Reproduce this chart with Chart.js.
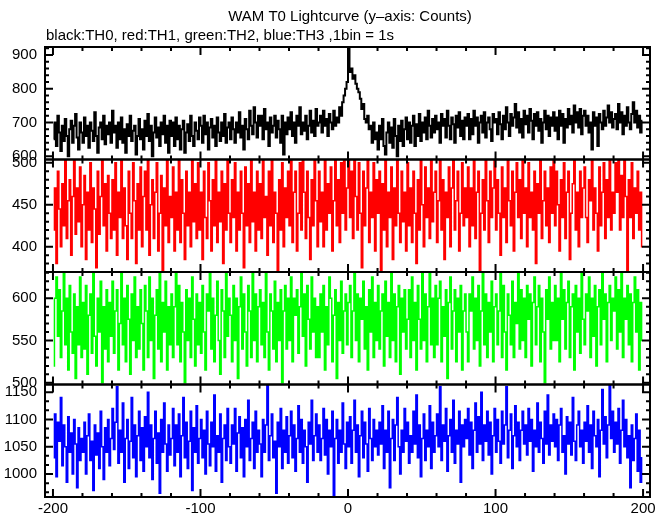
<!DOCTYPE html>
<html>
<head>
<meta charset="utf-8">
<script src="https://cdn.jsdelivr.net/npm/chart.js@4/dist/chart.umd.min.js"></script>
<style>
  html, body { margin: 0; padding: 0; background: #fff; }
</style>
</head>
<body>
<canvas id="lc" width="669" height="515"></canvas>
<script>
// bin centres: -199.5 ... 199.5, 1 bin = 1 s
const binStart = -200;

// TH0 (black) counts per bin
const th0 = [
  650,700,630,720,670,615,690,645,710,660,600,680,705,640,690,725,655,620,700,670,
  640,715,660,690,625,700,675,645,730,660,610,685,700,650,720,635,690,665,700,640,
  735,670,690,625,700,650,715,640,680,610,695,660,720,645,675,690,605,660,710,650,
  680,620,705,660,725,645,690,600,670,715,655,685,630,700,665,720,640,690,610,705,
  660,700,630,715,650,690,620,680,705,610,670,695,645,720,660,630,700,675,650,715,
  690,640,720,665,700,620,685,710,655,690,630,715,670,645,700,660,725,640,685,700,
  650,715,680,640,700,670,730,655,690,620,710,680,650,735,690,665,745,700,655,720,
  690,720,650,740,680,700,630,715,670,690,720,655,705,680,640,720,605,700,665,715,
  680,730,660,700,640,720,690,745,665,700,675,720,650,690,735,670,705,660,740,690,
  700,720,670,735,690,710,660,725,700,680,735,690,715,700,745,720,760,780,800,820,
  925,850,860,830,840,815,800,790,770,740,755,710,700,720,680,690,640,700,650,670,
  620,690,650,710,630,605,670,700,640,685,625,710,660,600,690,645,705,630,680,715,
  650,700,640,690,720,630,695,660,725,645,700,670,715,650,735,690,655,710,670,720,
  680,700,640,725,690,710,655,735,690,650,715,695,640,720,685,730,660,705,650,715,
  690,725,650,710,665,735,690,715,640,700,720,670,730,655,700,715,680,645,725,700,
  710,665,730,695,650,720,680,745,700,660,725,690,715,755,685,730,670,710,655,735,
  695,720,670,740,705,650,725,690,730,675,710,640,700,735,680,720,660,715,690,730,
  675,715,650,735,690,725,640,710,685,740,695,720,670,750,700,730,685,740,665,720,
  735,690,720,670,700,620,730,690,715,630,725,700,680,735,690,715,750,700,730,685,
  710,725,680,755,700,730,665,720,690,745,700,680,725,760,700,735,685,720,670,705
];

// TH1 (red)
const th1 = [
  420,470,380,490,445,400,475,425,505,410,455,480,390,460,505,415,470,430,495,400,
  450,485,385,465,420,500,405,470,445,375,490,415,460,505,425,475,395,485,440,410,
  480,420,500,390,465,435,505,410,470,425,385,490,440,410,500,455,380,475,420,495,
  400,460,490,420,505,390,450,480,410,465,500,395,440,485,370,470,425,505,405,460,
  435,495,395,465,420,505,405,480,440,385,490,425,465,400,505,430,475,410,500,420,
  465,385,490,435,410,500,455,395,480,425,505,405,465,430,490,380,475,420,505,440,
  405,480,435,500,395,465,420,490,440,375,495,425,475,405,505,430,465,395,490,420,
  475,410,505,435,460,390,490,425,505,405,465,440,370,480,420,500,400,470,435,490,
  425,505,405,465,490,395,440,500,420,505,465,410,490,435,385,480,425,505,455,400,
  490,430,465,400,505,420,475,440,495,395,455,505,425,480,405,500,440,505,420,470,
  505,435,490,410,505,460,420,500,440,375,490,425,470,505,405,465,435,500,395,480,
  440,490,370,475,420,505,400,465,435,495,385,470,425,505,440,405,490,430,465,395,
  500,425,470,405,490,440,380,480,420,505,450,400,495,435,470,410,505,430,465,490,
  405,455,505,420,480,385,465,435,495,400,470,505,420,455,490,395,440,500,425,470,
  435,495,400,470,425,505,410,465,490,370,440,480,420,505,455,405,490,435,470,505,
  420,480,440,390,495,435,470,405,505,455,425,490,395,465,500,435,480,410,505,440,
  470,400,500,435,465,420,490,380,475,440,505,410,455,490,425,470,405,495,440,505,
  425,490,450,395,480,435,500,410,465,490,385,440,475,505,420,465,400,490,435,470,
  495,435,405,480,455,505,420,470,440,395,495,425,465,500,410,480,435,505,420,465,
  440,500,465,505,420,485,435,505,460,370,480,435,500,410,470,440,490,420,465,400
];

// TH2 (green)
const th2 = [
  520,600,625,555,610,530,585,631,545,600,515,615,560,535,605,505,590,545,625,530,
  595,540,615,510,580,605,535,631,555,520,600,560,620,500,590,540,610,525,595,555,
  620,535,585,610,515,570,631,545,600,525,615,575,510,605,550,625,530,590,540,610,
  570,515,615,585,530,625,550,600,505,580,610,540,631,525,595,560,620,515,590,545,
  605,530,590,631,545,615,525,595,560,500,610,550,600,530,625,575,520,605,545,595,
  535,615,560,515,605,585,631,540,600,525,580,620,550,510,610,585,530,631,555,600,
  580,525,615,550,600,505,590,625,540,605,560,520,615,585,530,631,550,605,525,590,
  610,545,595,530,631,560,515,605,585,540,620,525,595,550,610,500,585,615,540,600,
  550,625,525,600,580,610,535,590,631,555,605,520,615,575,540,625,560,600,530,590,
  530,605,560,615,515,590,545,625,600,525,580,610,505,595,550,620,535,585,605,545,
  595,615,530,585,631,550,605,525,600,575,620,540,590,515,610,560,625,530,595,550,
  615,540,585,605,520,620,555,595,530,631,550,605,525,590,615,510,600,560,610,540,
  575,610,530,625,550,595,515,615,575,540,631,550,605,525,590,631,545,600,530,615,
  545,600,620,525,590,555,610,505,595,625,540,585,610,525,600,560,615,515,585,605,
  560,525,605,585,625,540,600,550,615,520,585,631,545,605,530,595,560,620,525,590,
  605,545,585,631,530,615,560,515,605,580,545,620,530,595,570,631,540,610,550,600,
  530,615,575,605,520,595,625,545,590,615,525,600,560,500,610,575,625,540,595,550,
  615,550,600,525,631,575,610,540,595,620,530,590,605,515,615,560,600,535,631,575,
  545,605,585,625,530,600,555,615,520,590,610,545,631,575,605,525,595,615,550,600,
  585,625,540,610,560,631,530,600,575,615,545,605,525,595,625,560,610,515,595,550
];

// TH3 (blue)
const th3 = [
  1030,1110,995,1095,1060,1140,1015,1090,1050,985,1105,1040,1075,1000,1100,1055,975,1085,1025,1065,
  1040,1095,1000,1070,1110,1025,1060,970,1090,1035,1075,1010,1115,1050,990,1085,1040,1100,1015,1065,
  1120,1045,1095,1160,1020,1080,1040,1130,985,1065,1100,1010,1060,1140,1030,1090,995,1070,1115,1025,
  1085,1005,1105,1050,1150,1030,1090,990,1065,1115,1020,1075,965,1100,1040,1130,1055,1005,1090,1035,
  1065,1120,1015,1090,1040,1110,995,1070,1140,1030,1095,1010,1060,1115,970,1085,1040,1125,1020,1065,
  1100,1030,1080,1000,1115,1055,1015,1095,1050,1145,1005,1070,1040,1110,985,1065,1090,1025,1120,1050,
  1020,1090,1055,1120,1005,1075,1105,1030,1085,995,1100,1050,1135,1025,1065,1095,1010,1115,1040,1080,
  1055,995,1100,1040,1090,1164,1025,1070,1110,1030,1060,965,1095,1050,1120,1010,1080,1040,1105,1020,
  1070,1115,1030,1090,1005,1065,1125,1040,1100,1020,1080,1050,985,1095,1055,1135,1025,1070,1110,1040,
  1090,1025,1065,1120,1035,1100,1000,1080,1050,1115,960,1065,1100,1020,1080,1040,1130,1055,1010,1095,
  1050,1105,1020,1080,1135,1040,1090,995,1070,1115,1030,1095,1055,1005,1120,1065,1025,1100,1050,1080,
  1035,1095,1055,1125,1010,1080,1040,1115,975,1065,1100,1025,1090,1140,1050,1000,1080,1040,1120,1060,
  1095,1020,1070,1040,1115,1055,1145,1030,1090,995,1065,1110,1025,1080,1050,1125,1010,1095,1040,1070,
  1110,1050,1160,1025,1090,1060,1120,1005,1070,1100,1040,1135,1020,1080,1055,1115,985,1090,1050,1100,
  1065,1120,1035,1095,1010,1080,1130,1040,1105,1055,1150,1025,1090,1060,1115,1035,1095,1000,1070,1120,
  1040,1100,1060,1020,1115,1055,1090,1160,1030,1080,1110,1010,1070,1125,1050,1095,1025,1080,1115,1055,
  1090,1035,1120,1060,1100,1005,1080,1050,1130,1040,1095,1065,1020,1115,1055,1145,1035,1090,1060,1110,
  1050,1100,1025,1090,1120,1040,1070,1000,1105,1055,1095,1035,1140,1060,1025,1090,1115,1050,1080,1020,
  1095,1060,1125,1040,1090,1010,1115,1070,1050,1100,995,1080,1155,1055,1105,1030,1090,1164,1065,1115,
  1040,1095,1055,1120,1020,1080,1135,1050,1100,1030,1070,975,1090,1025,1065,1110,1005,1080,985,1030
];

// panel y ranges and ticks (top to bottom)
const panelMin   = [590, 370, 498, 958];
const panelMax   = [924, 504, 631, 1164];
const majorStep  = [100, 50, 50, 50];
const minorStep  = [20, 10, 10, 50 / 3];
const colors = ["#000000", "#ff0000", "#00ff00", "#0000ff"];
const lineWidths = [2, 1.5, 1.5, 1.5];
const series = [th0, th1, th2, th3];

const xMin = -205.4, xMax = 204.7;
const FONT = '"Liberation Sans", Arial, sans-serif';

function toPoints(arr) {
    return arr.map((v, i) => ({ x: binStart + i + 0.5, y: v }));
}

// clip each curve to its own panel
const panelClip = {
    id: "panelClip",
    beforeDatasetDraw(chart, args) {
        const ys = chart.scales[args.meta.yAxisID];
        const ca = chart.chartArea;
        const ctx = chart.ctx;
        ctx.save();
        ctx.beginPath();
        ctx.rect(ca.left, ys.top, ca.right - ca.left, ys.bottom - ys.top);
        ctx.clip();
    },
    afterDatasetDraw(chart) {
        chart.ctx.restore();
    }
};

// pgplot-style frame with inward ticks + titles
const frame = {
    id: "frame",
    afterDraw(chart) {
        const ctx = chart.ctx;
        const ca = chart.chartArea;
        const xs = chart.scales.x;
        ctx.save();
        ctx.strokeStyle = "#000";
        ctx.lineWidth = 2;
        for (let p = 0; p < 4; p++) {
            const ys = chart.scales["y" + p];
            ctx.strokeRect(ca.left, ys.top, ca.right - ca.left, ys.bottom - ys.top);
            ctx.beginPath();
            // y ticks, left and right
            const start = Math.ceil(panelMin[p] / majorStep[p]) * majorStep[p] - majorStep[p];
            for (let k = 0; ; k++) {
                const v = start + k * minorStep[p];
                if (v > panelMax[p]) break;
                if (v < panelMin[p]) continue;
                const py = ys.getPixelForValue(v);
                const r = v / majorStep[p];
                const len = Math.abs(r - Math.round(r)) < 1e-6 ? 8 : 4;
                ctx.moveTo(ca.left, py); ctx.lineTo(ca.left + len, py);
                ctx.moveTo(ca.right, py); ctx.lineTo(ca.right - len, py);
            }
            // x ticks, top and bottom of each panel
            for (let v = -200; v <= 200; v += 20) {
                const px = xs.getPixelForValue(v);
                const len = v % 100 === 0 ? 8 : 4;
                ctx.moveTo(px, ys.top); ctx.lineTo(px, ys.top + len);
                ctx.moveTo(px, ys.bottom); ctx.lineTo(px, ys.bottom - len);
            }
            ctx.stroke();
        }
        ctx.fillStyle = "#000";
        ctx.font = "15px " + FONT;
        ctx.textBaseline = "middle";
        ctx.textAlign = "center";
        ctx.fillText("WAM T0 Lightcurve (y\u2013axis: Counts)", 350, 17);
        ctx.textAlign = "left";
        ctx.fillText("black:TH0, red:TH1, green:TH2, blue:TH3 ,1bin = 1s", 46, 36);
        ctx.restore();
    }
};

const scales = {
    x: {
        type: "linear",
        position: "bottom",
        min: xMin,
        max: xMax,
        grid: { display: false, drawTicks: false },
        border: { display: false },
        ticks: {
            stepSize: 100,
            includeBounds: false,
            color: "#000",
            font: { family: FONT, size: 15 },
            padding: 3,
            maxRotation: 0
        },
        afterFit: s => { s.height = 18; }
    }
};

// stacked axes are laid out bottom-up, so add the bottom panel first
for (let p = 3; p >= 0; p--) {
    scales["y" + p] = {
        type: "linear",
        position: "left",
        stack: "lc",
        stackWeight: 1,
        min: panelMin[p],
        max: panelMax[p],
        grid: { display: false, drawTicks: false },
        border: { display: false },
        ticks: {
            stepSize: majorStep[p],
            includeBounds: false,
            autoSkip: false,
            color: "#000",
            font: { family: FONT, size: 15 },
            padding: 8,
            callback: v => String(v)
        },
        afterFit: s => { s.width = 45; }
    };
}

const datasets = series.map((arr, p) => ({
    data: toPoints(arr),
    yAxisID: "y" + p,
    xAxisID: "x",
    borderColor: colors[p],
    borderWidth: lineWidths[p],
    pointRadius: 0,
    fill: false,
    stepped: "middle"
}));

new Chart(document.getElementById("lc"), {
    type: "line",
    data: { datasets: datasets },
    options: {
        responsive: false,
        animation: false,
        layout: { padding: { top: 47, right: 19, left: 0, bottom: 0 } },
        plugins: {
            legend: { display: false },
            tooltip: { enabled: false },
            title: { display: false }
        },
        scales: scales
    },
    plugins: [panelClip, frame]
});
</script>
</body>
</html>
